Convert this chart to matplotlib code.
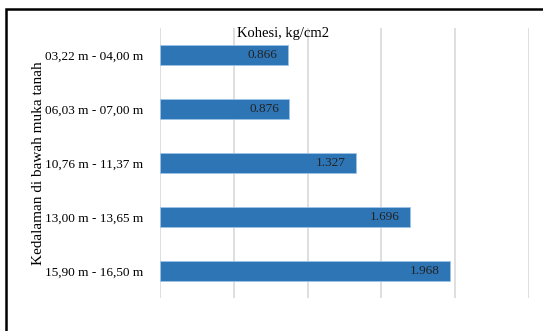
import numpy as np
import matplotlib
matplotlib.use("Agg")
import matplotlib.pyplot as plt
from matplotlib.patches import Rectangle

kedalaman = ["03,22 m - 04,00 m", "06,03 m - 07,00 m", "10,76 m - 11,37 m",
             "13,00 m - 13,65 m", "15,90 m - 16,50 m"]
kohesi = [0.866, 0.876, 1.327, 1.696, 1.968]
grid_x = [0, 0.5, 1.0, 1.5, 2.0, 2.5]

W, H = 543, 331
plt.rcParams['font.family'] = ['Liberation Serif', 'DejaVu Serif']

fig = plt.figure(figsize=(W / 100, H / 100), dpi=100)
ax = fig.add_axes([160 / W, 1 - 298 / H, (529 - 160) / W, (298 - 28) / H])

y = np.arange(len(kedalaman))
bars = ax.barh(y, kohesi, height=0.36, color='#2E75B6', edgecolor='#9DC3E6',
               linewidth=0.6, zorder=3)
for b, v in zip(bars, kohesi):
    ax.text(v - 0.07, b.get_y() + b.get_height() / 2, f"{v:.3f}",
            ha='right', va='center', fontsize=9.5, color='#222222', zorder=4)

ax.set_xlim(0, 2.5)
ax.set_ylim(len(kedalaman) - 0.5, -0.5)
ax.set_xticks(grid_x)
ax.xaxis.grid(True, color='#D9D9D9', linewidth=1.2, zorder=0)
ax.tick_params(axis='x', length=0, labelbottom=False)
ax.set_yticks(y)
ax.set_yticklabels(kedalaman, fontsize=9.5)
ax.tick_params(axis='y', length=0, pad=12)
for s in ax.spines.values():
    s.set_visible(False)

ax.set_ylabel("Kedalaman di bawah muka tanah", fontsize=11)
ax.yaxis.set_label_coords((45 - 160) / (529 - 160), 0.5)
fig.text(283 / W, 1 - 33 / H, "Kohesi, kg/cm2", ha='center', va='center',
         fontsize=10.5)

fig.patches.append(Rectangle((6 / W, -0.2), 1.2, 1 - 9 / H + 0.2,
                             transform=fig.transFigure, fill=False,
                             edgecolor='black', linewidth=1.8))

fig.savefig("out.png", dpi=100)
